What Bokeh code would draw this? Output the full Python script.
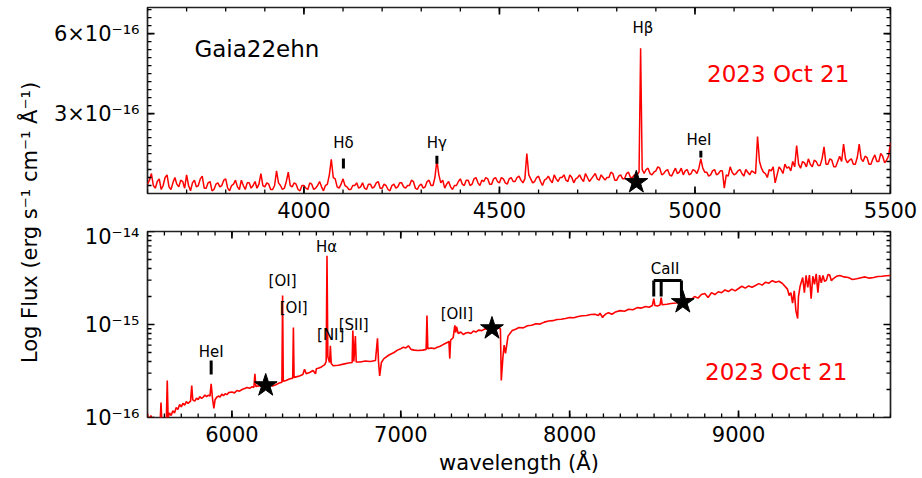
import math
from bokeh.plotting import figure
from bokeh.models import Range1d, FixedTicker, Label
from bokeh.layouts import row, column
from bokeh.embed import file_html
from bokeh.resources import INLINE
from bokeh.core.properties import value

FONT = "DejaVu Sans"
RED = "#ff0000"

# ---------------- data (flux in units of 1e-16 erg s^-1 cm^-1 A^-1) ----------------
top_wl = list(range(3600, 4855, 5)) + [4857, 4861, 4865] + list(range(4870, 5505, 5))
top_flux = [
    0.35, 0.5, 0.75, 0.3, 0.2, 0.45, 0.55, 0.15, 0.3, 0.6, 0.7, 0.25, 0.15, 0.4, 0.6, 0.35, 0.25, 0.5, 0.45, 0.2,
    0.7, 0.3, 0.1, 0.4, 0.5, 0.25, 0.3, 0.55, 0.65, 0.2, 0.2, 0.4, 0.45, 0.1, 0.15, 0.35, 0.4, 0.25, 0.3, 0.5,
    0.55, 0.2, 0.1, 0.3, 0.35, 0.5, 0.25, 0.15, 0.5, 0.3, 0.15, 0.4, 0.4, 0.2, 0.3, 0.45, 0.2, 0.35, 0.75, 0.3,
    0.25, 0.4, 0.35, 0.15, 0.15, 0.3, 0.85, 0.4, 0.3, 0.15, 0.2, 0.45, 0.8, 0.3, 0.25, 0.4, 0.35, 0.15, 0.1, 0.3,
    0.3, 0.2, 0.15, 0.4, 0.35, 0.15, 0.2, 0.3, 0.45, 0.25, 0.1, 0.3, 0.35, 0.7, 1.28, 0.6, 0.55, 0.25, 0.2, 0.35,
    0.55, 0.3, 0.25, 0.15, 0.15, 0.3, 0.3, 0.4, 0.2, 0.25, 0.4, 0.2, 0.15, 0.35, 0.35, 0.2, 0.25, 0.4, 0.45, 0.2,
    0.2, 0.35, 0.3, 0.15, 0.1, 0.3, 0.35, 0.2, 0.25, 0.4, 0.4, 0.25, 0.2, 0.3, 0.3, 0.5, 0.45, 0.2, 0.15, 0.3,
    0.35, 0.2, 0.25, 0.45, 0.5, 0.3, 0.3, 0.6, 1.24, 0.7, 0.4, 0.5, 0.2, 0.35, 0.45, 0.25, 0.15, 0.3, 0.3, 0.45,
    0.55, 0.35, 0.3, 0.5, 0.5, 0.3, 0.35, 0.55, 0.6, 0.4, 0.3, 0.5, 0.45, 0.6, 0.55, 0.35, 0.35, 0.55, 0.6, 0.45,
    0.4, 0.6, 0.55, 0.4, 0.35, 0.55, 0.6, 0.45, 0.45, 0.6, 0.65, 0.5, 0.4, 0.55, 1.5, 0.7, 0.55, 0.4, 0.45, 0.6,
    0.65, 0.45, 0.3, 0.5, 0.55, 0.65, 0.5, 0.4, 0.7, 0.55, 0.45, 0.6, 0.6, 0.7, 0.5, 0.45, 0.7, 0.6, 0.4, 0.55,
    0.6, 0.7, 0.55, 0.45, 0.75, 0.6, 0.45, 0.55, 0.65, 0.75, 0.55, 0.5, 0.7, 0.6, 0.5, 0.6, 0.6, 0.8, 0.75, 0.5,
    0.5, 0.65, 0.7, 0.55, 0.55, 0.75, 0.8, 0.6, 0.6, 0.7, 0.65,
    0.8, 5.45, 0.9,
    0.75, 0.9, 0.95, 0.75, 0.7, 0.8, 0.85, 1.0, 0.95, 0.7, 0.75, 0.85, 0.9, 0.7, 0.65, 0.8, 0.95, 0.75, 0.8, 0.95,
    0.7, 0.85, 0.9, 0.7, 0.75, 0.9, 0.85, 0.75, 0.95, 1.3, 0.95, 0.8, 0.8, 0.65, 0.7, 0.85, 0.9, 0.7, 0.75, 0.85,
    0.85, 0.2, 0.7, 0.65, 1.0, 0.8, 0.7, 0.75, 0.85, 0.9, 0.75, 0.65, 0.9, 0.8, 0.7, 0.85, 0.8, 0.75, 2.14, 1.2,
    0.95, 0.8, 0.75, 0.6, 0.9, 0.85, 1.0, 0.4, 0.7, 1.0, 0.9, 0.75, 1.1, 0.95, 1.0, 0.85, 1.2, 1.0, 1.8, 1.1,
    0.95, 1.2, 1.15, 1.0, 1.3, 1.1, 1.0, 1.25, 1.2, 1.05, 1.05, 1.3, 1.75, 1.1, 1.1, 1.3, 1.25, 1.0, 1.0, 1.2,
    1.4, 1.2, 1.85, 1.3, 1.15, 1.25, 1.3, 1.1, 1.1, 1.35, 1.85, 1.3, 1.2, 1.4, 1.35, 1.1, 1.1, 1.3, 1.45, 1.2,
    1.2, 1.5, 1.4, 1.15, 1.25, 1.4, 1.9,
]

# (wavelength, flux) pairs
bot_spec = [
    (5500, 1.1), (5505, 0.85), (5510, 0.9), (5520, 1.05), (5530, 0.9), (5540, 1.0), (5550, 0.85),
    (5560, 0.95), (5575, 0.9), (5580, 1.45), (5585, 0.9), (5600, 0.95), (5612, 1.0), (5617, 2.5),
    (5622, 1.0), (5630, 1.12), (5640, 1.05), (5650, 1.18), (5660, 1.12), (5670, 1.28), (5680, 1.22),
    (5690, 1.38), (5700, 1.3), (5710, 1.42), (5720, 1.36), (5730, 1.48), (5740, 1.42), (5755, 1.5),
    (5762, 2.2), (5768, 1.55), (5780, 1.5), (5790, 1.62), (5800, 1.56), (5810, 1.68), (5820, 1.6),
    (5830, 1.66), (5840, 1.74), (5850, 1.68), (5860, 1.74), (5870, 1.7), (5877, 2.3), (5885, 1.6),
    (5893, 1.25), (5900, 1.55), (5910, 1.65), (5920, 1.7), (5930, 1.66), (5940, 1.78), (5950, 1.72),
    (5960, 1.8), (5970, 1.76), (5980, 1.85), (6000, 1.88), (6015, 1.84), (6030, 1.95), (6045, 1.92),
    (6060, 2.0), (6075, 2.05), (6090, 2.1), (6105, 2.06), (6120, 2.15), (6130, 2.1), (6136, 2.95),
    (6142, 2.15), (6160, 2.2), (6180, 2.15), (6200, 2.2), (6220, 2.25), (6240, 2.18), (6260, 2.25),
    (6280, 2.35), (6296, 2.4), (6300, 20.5), (6304, 2.45), (6320, 2.5), (6340, 2.6), (6360, 2.65),
    (6364, 9.3), (6368, 2.7), (6385, 2.75), (6400, 2.8), (6420, 2.9), (6430, 3.3), (6440, 2.95),
    (6460, 3.05), (6480, 3.2), (6495, 2.95), (6500, 3.35), (6515, 3.4), (6530, 3.5), (6550, 3.7),
    (6558, 4.0), (6563, 55.0), (6568, 4.5), (6578, 3.9), (6583, 5.9), (6588, 3.8), (6600, 3.6),
    (6630, 3.65), (6660, 3.75), (6690, 3.85), (6712, 3.9), (6716, 8.6), (6722, 4.0), (6731, 7.5),
    (6736, 3.95), (6760, 3.95), (6790, 4.05), (6820, 4.0), (6850, 4.1), (6862, 7.1), (6868, 4.0),
    (6875, 2.8), (6885, 3.9), (6900, 4.3), (6930, 4.7), (6960, 5.0), (6980, 5.3), (7000, 5.5),
    (7015, 5.7), (7030, 5.6), (7045, 5.9), (7060, 5.4), (7080, 5.3), (7100, 5.25), (7130, 5.3),
    (7150, 5.4), (7155, 12.5), (7160, 5.5), (7180, 5.6), (7200, 5.5), (7215, 5.7), (7230, 5.8),
    (7245, 6.0), (7260, 6.2), (7275, 6.4), (7285, 6.6), (7290, 4.3), (7295, 6.8), (7310, 7.2),
    (7320, 9.8), (7325, 8.2), (7330, 9.5), (7340, 8.0), (7355, 8.3), (7370, 7.8), (7385, 8.1),
    (7400, 8.2), (7415, 8.0), (7430, 8.5), (7445, 8.3), (7460, 8.7), (7480, 8.6), (7500, 9.0),
    (7520, 8.8), (7540, 9.1), (7570, 9.3), (7590, 9.0), (7595, 2.5), (7605, 4.5), (7612, 6.0),
    (7620, 4.9), (7635, 7.5), (7660, 8.6), (7680, 8.9), (7700, 9.3), (7725, 9.2), (7750, 9.7),
    (7775, 9.8), (7800, 10.2), (7825, 10.1), (7850, 10.6), (7875, 10.9), (7900, 11.0), (7925, 11.3),
    (7950, 11.4), (7975, 11.6), (8000, 11.9), (8025, 11.8), (8050, 12.2), (8075, 12.4), (8100, 12.5),
    (8125, 12.8), (8150, 12.9), (8170, 12.5), (8180, 13.2), (8195, 11.9), (8200, 12.3), (8215, 13.0),
    (8230, 13.4), (8250, 12.9), (8270, 13.6), (8300, 14.1), (8325, 13.9), (8350, 14.6), (8375, 14.4),
    (8400, 15.2), (8425, 15.0), (8450, 15.6), (8470, 15.3), (8490, 16.0), (8498, 19.0), (8505, 16.0),
    (8520, 15.8), (8535, 16.2), (8542, 19.5), (8548, 16.3), (8575, 16.5), (8600, 16.8), (8630, 17.0),
    (8662, 17.3), (8680, 18.5), (8700, 19.0), (8720, 18.5), (8740, 20.0), (8760, 19.2), (8780, 21.0),
    (8800, 21.6), (8820, 19.5), (8840, 22.0), (8860, 21.0), (8880, 22.5), (8900, 22.0), (8920, 23.5),
    (8940, 22.6), (8960, 24.0), (8980, 23.0), (9000, 24.4), (9020, 25.8), (9040, 24.6), (9060, 26.0),
    (9080, 25.2), (9100, 26.3), (9120, 27.5), (9140, 26.5), (9160, 28.5), (9180, 27.8), (9200, 29.6),
    (9220, 28.5), (9240, 29.2), (9260, 27.6), (9290, 24.0), (9300, 20.5), (9310, 22.0), (9320, 17.0),
    (9330, 23.0), (9340, 14.0), (9350, 11.6), (9355, 20.0), (9365, 26.0), (9380, 32.0), (9390, 22.0),
    (9400, 33.7), (9410, 25.0), (9420, 34.0), (9430, 19.0), (9440, 33.0), (9450, 27.0), (9460, 35.0),
    (9470, 22.0), (9480, 34.0), (9490, 28.0), (9500, 33.7), (9510, 29.0), (9520, 30.0), (9530, 34.5),
    (9540, 34.0), (9550, 29.5), (9560, 31.0), (9580, 33.0), (9600, 33.7), (9625, 32.5), (9650, 32.0),
    (9675, 30.5), (9700, 31.0), (9725, 31.8), (9750, 32.5), (9775, 31.5), (9800, 32.0), (9825, 32.8),
    (9850, 33.0), (9875, 33.4), (9900, 33.7),
]
bot_wl = [p[0] for p in bot_spec]
bot_flux = [p[1] for p in bot_spec]

# stars
top_star_wl = [4850]
top_star_flux = [0.42]
bot_star_wl = [6200, 7540, 8670]
bot_star_flux = [2.21, 9.06, 17.3]

# line identifications
top_line_names = ["H\u03b4", "H\u03b3", "H\u03b2", "HeI"]
top_line_label_wl = [4101, 4340, 4867, 5010]
top_line_label_y = [1.91, 1.91, 6.22, 1.99]
top_mark_wl = [4101, 4340, 5015]
top_mark_y0 = [0.94, 1.12, 1.35]
top_mark_y1 = [1.31, 1.42, 1.60]

bot_line_names = ["HeI", "[OI]", "[OI]", "H\u03b1", "[NI]", "[SII]", "[OII]", "CaII"]
bot_line_label_wl = [5877, 6300, 6366, 6561, 6585, 6721, 7332, 8565]
bot_line_label_y = [5.0, 29.7, 14.9, 68.8, 7.8, 10.0, 13.1, 40.0]
bot_mark_wl = [5877, 8498, 8542, 8662]
bot_mark_y0 = [2.9, 20.0, 20.0, 20.0]
bot_mark_y1 = [4.1, 29.7, 29.7, 29.7]
caii_bar_x0 = [8498]
caii_bar_x1 = [8662]
caii_bar_y = [29.7]

# ticks
top_x_major = [4000, 4500, 5000, 5500]
top_x_minor = list(range(3600, 5501, 100))
top_y_major = [3, 6]
top_y_minor = [round(0.3 * k, 2) for k in range(1, 24)]
top_y_tick_labels = {3: "3\u00d710\u207b\u00b9\u2076", 6: "6\u00d710\u207b\u00b9\u2076"}
bot_x_major = [6000, 7000, 8000, 9000]
bot_x_minor = list(range(5500, 9901, 100))
bot_y_major = [1, 10, 100]
bot_y_minor = [m * 10 ** d for d in (0, 1) for m in range(2, 10)]
bot_y_tick_labels = {1: "10\u207b\u00b9\u2076", 10: "10\u207b\u00b9\u2075", 100: "10\u207b\u00b9\u2074"}

object_name = "Gaia22ehn"
date_text = "2023 Oct 21"
y_label = "Log Flux (erg s\u207b\u00b9 cm\u207b\u00b9 \u00c5\u207b\u00b9)"
x_label = "wavelength (\u00c5)"

MAJ_LEN, MIN_LEN = 7, 4


def style(ax):
    ax.major_tick_in = 0
    ax.major_tick_out = 0
    ax.minor_tick_in = 0
    ax.minor_tick_out = 0
    ax.major_tick_line_color = None
    ax.minor_tick_line_color = None
    ax.axis_line_color = None
    ax.major_label_text_font = FONT
    ax.major_label_text_color = "black"
    ax.major_label_text_font_size = "21px"
    ax.major_label_standoff = 8
    ax.axis_label_text_font = FONT
    ax.axis_label_text_font_style = "normal"
    ax.axis_label_text_color = "black"


def base_style(p):
    p.xgrid.visible = False
    p.ygrid.visible = False
    p.outline_line_color = "#222222"
    p.outline_line_width = 1.7
    p.background_fill_color = "white"
    p.border_fill_color = "white"


def frame_ticks(p, xr, yr, xmaj, xmin, ymaj, ymin):
    """inward tick marks on all four sides of the frame"""
    for ticks, length, width in ((xmin, MIN_LEN, 1.3), (xmaj, MAJ_LEN, 1.7)):
        p.ray(x=ticks, y=[yr.start] * len(ticks), length=length, length_units="screen",
              angle=90, angle_units="deg", line_color="black", line_width=width)
        p.ray(x=ticks, y=[yr.end] * len(ticks), length=length, length_units="screen",
              angle=-90, angle_units="deg", line_color="black", line_width=width)
    for ticks, length, width in ((ymin, MIN_LEN, 1.3), (ymaj, MAJ_LEN, 1.7)):
        p.ray(x=[xr.start] * len(ticks), y=ticks, length=length, length_units="screen",
              angle=0, angle_units="deg", line_color="black", line_width=width)
        p.ray(x=[xr.end] * len(ticks), y=ticks, length=length, length_units="screen",
              angle=180, angle_units="deg", line_color="black", line_width=width)


# ---------------- top panel ----------------
txr = Range1d(3600, 5500)
tyr = Range1d(0, 6.98)
top = figure(width=872, height=224, x_range=txr, y_range=tyr,
             output_backend="svg", toolbar_location=None,
             min_border_left=97, min_border_right=32, min_border_top=7, min_border_bottom=31)
base_style(top)
top.xaxis.ticker = FixedTicker(ticks=top_x_major)
top.yaxis.ticker = FixedTicker(ticks=top_y_major)
style(top.xaxis[0])
style(top.yaxis[0])
top.yaxis[0].major_label_overrides = top_y_tick_labels

top.line(top_wl, top_flux, line_color=RED, line_width=1.5)
top.segment(x0=top_mark_wl, y0=top_mark_y0, x1=top_mark_wl, y1=top_mark_y1,
            line_color="black", line_width=3)
top.text(x=top_line_label_wl, y=top_line_label_y, text=top_line_names,
         text_font=value(FONT), text_font_size="15px", text_align="center",
         text_baseline="middle", text_color="black")
top.scatter(top_star_wl, top_star_flux, marker="star", size=24, color="black")
frame_ticks(top, txr, tyr, top_x_major, top_x_minor, top_y_major, top_y_minor)
top.add_layout(Label(x=3720, y=5.44, text=object_name, text_font=FONT, text_font_size="23px",
                     text_baseline="middle", text_align="left", text_color="black"))
top.add_layout(Label(x=5031, y=4.5, text=date_text, text_font=FONT, text_font_size="23px",
                     text_baseline="middle", text_align="left", text_color=RED))

# ---------------- bottom panel ----------------
bxr = Range1d(5500, 9900)
byr = Range1d(1, 100)
bot = figure(width=872, height=254, x_range=bxr, y_range=byr,
             y_axis_type="log", output_backend="svg", toolbar_location=None,
             min_border_left=97, min_border_right=32, min_border_top=7, min_border_bottom=61)
base_style(bot)
bot.xaxis.ticker = FixedTicker(ticks=bot_x_major)
bot.yaxis.ticker = FixedTicker(ticks=bot_y_major)
style(bot.xaxis[0])
style(bot.yaxis[0])
bot.yaxis[0].major_label_overrides = bot_y_tick_labels
bot.xaxis[0].axis_label = x_label
bot.xaxis[0].axis_label_text_font_size = "21px"
bot.xaxis[0].axis_label_standoff = 6

bot.line(bot_wl, bot_flux, line_color=RED, line_width=1.6)
bot.segment(x0=bot_mark_wl, y0=bot_mark_y0, x1=bot_mark_wl, y1=bot_mark_y1,
            line_color="black", line_width=3)
bot.segment(x0=caii_bar_x0, y0=caii_bar_y, x1=caii_bar_x1, y1=caii_bar_y,
            line_color="black", line_width=3)
bot.text(x=bot_line_label_wl, y=bot_line_label_y, text=bot_line_names,
         text_font=value(FONT), text_font_size="15px", text_align="center",
         text_baseline="middle", text_color="black")
bot.scatter(bot_star_wl, bot_star_flux, marker="star", size=24, color="black")
frame_ticks(bot, bxr, byr, bot_x_major, bot_x_minor, bot_y_major, bot_y_minor)
bot.add_layout(Label(x=8802, y=3.05, text=date_text, text_font=FONT, text_font_size="23px",
                     text_baseline="middle", text_align="left", text_color=RED))

# ---------------- shared y label ----------------
lab = figure(width=50, height=478, x_range=Range1d(0, 1), y_range=Range1d(0, 1),
             output_backend="svg", toolbar_location=None, min_border=0,
             x_axis_type=None, y_axis_type=None)
lab.outline_line_color = None
lab.xgrid.visible = False
lab.ygrid.visible = False
lab.add_layout(Label(x=0.58, y=0.5356, text=y_label, angle=math.pi / 2, text_font=FONT,
                     text_font_size="21px", text_align="center", text_baseline="middle",
                     text_color="black"))

layout = row(lab, column(top, bot))
open("out.html", "w").write(file_html(layout, INLINE))
